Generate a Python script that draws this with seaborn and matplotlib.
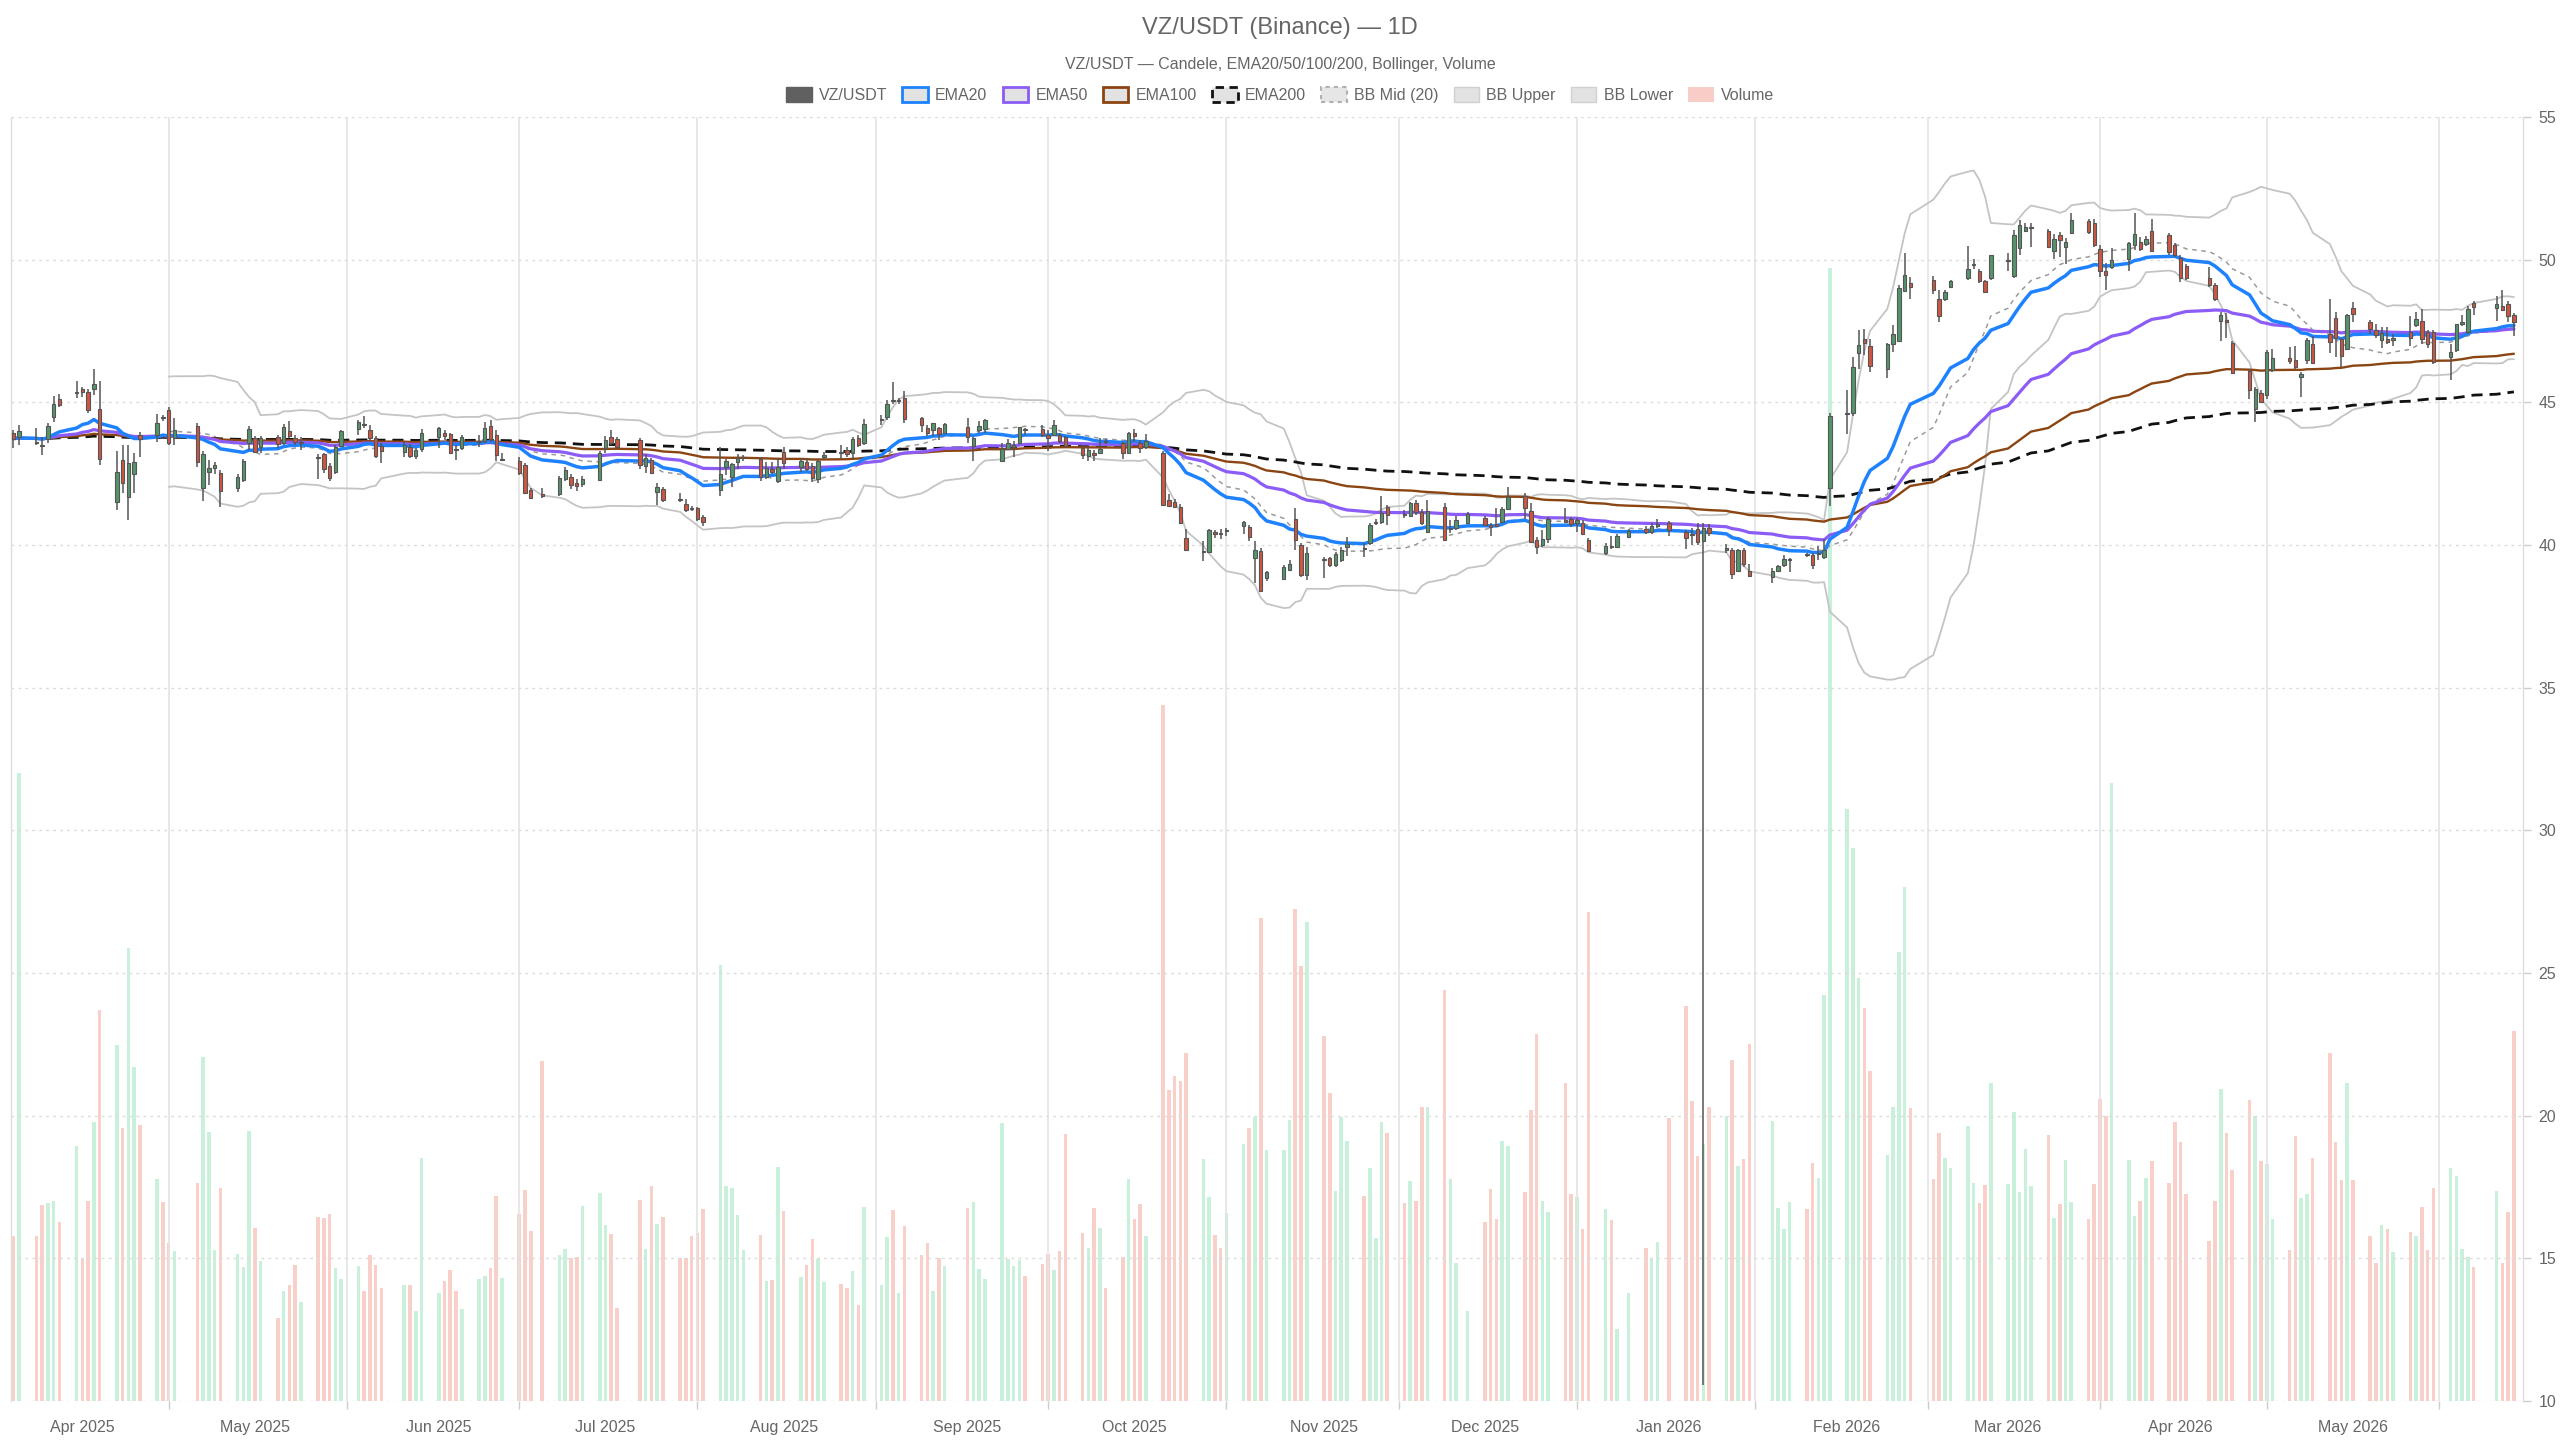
import numpy as np
import pandas as pd
import matplotlib
matplotlib.use("Agg")
import matplotlib.pyplot as plt
from matplotlib.patches import Patch
import seaborn as sns

# ---------------- data ----------------
first_day = "2025-03-20"
last_day = "2026-05-29"
holidays = ["2025-04-18", "2025-05-26", "2025-06-19", "2025-07-04", "2025-09-01",
            "2025-11-27", "2025-12-25", "2026-01-01", "2026-01-19", "2026-02-16",
            "2026-04-03", "2026-05-25"]

opens = [
    43.94, 43.77,
    43.62, 43.52, 43.70, 44.47, 45.12,
    45.32, 45.48, 45.37, 45.47, 44.75,
    41.52, 42.98, 41.67, 42.49, 43.84,
    43.86, 44.49, 44.73, 43.74,
    44.18, 41.99, 42.55, 42.69, 42.51,
    41.99, 42.28, 43.56, 43.74, 43.45,
    43.77, 43.59, 44.00, 43.76, 43.56,
    43.06, 43.19, 42.77, 42.57, 43.47,
    44.05, 44.23, 44.03, 43.74, 43.47,
    43.25, 43.45, 43.13, 43.35,
    43.77, 43.91, 43.89, 43.35, 43.39,
    43.60, 43.64, 44.17, 43.85, 42.98,
    42.94, 42.79, 41.93, 41.80,
    41.79, 42.32, 42.40, 42.16, 42.13,
    42.28, 43.39, 43.80, 43.73,
    43.68, 42.77, 42.98, 41.85, 41.96,
    41.62, 41.44, 41.30, 41.28, 40.97,
    41.93, 42.72, 42.39, 42.92, 43.06,
    43.03, 42.39, 42.65, 42.25, 43.27,
    42.75, 42.92, 42.77, 42.30, 43.10,
    43.25, 43.33, 43.21, 43.74, 43.56,
    44.38, 44.47, 45.05, 45.03, 45.14,
    44.44, 44.09, 44.03, 44.09, 43.94,
    44.15, 43.47, 44.03, 44.05,
    42.96, 43.35, 43.45, 43.59, 44.05,
    44.05, 43.86, 43.86, 43.86, 43.77,
    43.39, 43.13, 43.21, 43.24, 43.64,
    43.56, 43.24, 43.91, 43.56, 43.42,
    43.24, 41.58, 41.52, 41.34, 40.23,
    39.76, 39.77, 40.42, 40.40, 40.50,
    40.67, 40.62, 39.53, 39.80, 38.83,
    38.80, 39.12, 40.92, 40.00, 38.95,
    39.48, 39.53, 39.30, 39.47, 39.92,
    39.89, 40.06, 40.78, 40.82, 41.32,
    41.07, 41.03, 41.48, 41.17, 40.47,
    41.34, 40.57, 40.59, 40.78,
    40.94, 40.70, 40.70, 40.82, 41.25,
    41.73, 41.20, 40.18, 40.00, 40.20,
    40.87, 40.90, 40.76, 40.78, 40.18,
    39.71, 39.97, 39.94, 40.29,
    40.55, 40.45, 40.65, 40.76,
    40.45, 40.36, 40.55, 40.15, 40.58,
    39.84, 39.84, 39.10, 39.84, 39.10,
    38.88, 39.10, 39.29, 39.48,
    39.67, 39.66, 39.68, 39.57, 41.99,
    44.60, 44.61, 46.74, 47.21, 46.96,
    46.17, 47.03, 47.15, 48.91, 49.18,
    49.30, 48.62, 48.62, 49.03,
    49.36, 49.80, 49.61, 49.24, 49.36,
    49.95, 49.42, 50.41, 51.02, 51.10,
    51.00, 50.31, 50.87, 50.43, 50.92,
    51.35, 51.29, 50.37, 49.61, 49.73,
    50.04, 50.53, 50.63, 50.55, 51.00,
    50.87, 50.53, 50.06, 49.79,
    49.36, 49.12, 47.85, 47.85, 47.09,
    46.11, 44.75, 45.33, 45.25, 46.13,
    46.57, 46.50, 45.88, 46.47, 47.06,
    47.40, 47.97, 47.21, 46.87, 48.29,
    47.83, 47.52, 47.19, 47.21, 47.20,
    47.48, 47.70, 47.85, 47.46, 47.46,
    46.60, 46.82, 47.73, 47.46, 48.48,
    48.29, 48.38, 48.46, 48.07,
]

highs = [
    44.03, 44.20,
    44.10, 43.80, 44.29, 45.23, 45.30,
    45.76, 45.55, 45.46, 46.16, 45.76,
    43.30, 43.50, 43.50, 43.21, 43.97,
    44.60, 44.55, 44.85, 44.44,
    44.26, 43.31, 42.98, 42.92, 42.63,
    42.49, 43.00, 44.17, 43.82, 43.82,
    43.85, 44.24, 44.36, 43.86, 43.78,
    43.19, 43.24, 42.89, 43.51, 44.03,
    44.38, 44.52, 44.20, 43.82, 43.56,
    43.60, 43.55, 43.40, 44.06,
    44.15, 44.03, 43.94, 43.50, 43.85,
    43.85, 44.32, 44.38, 44.03, 43.24,
    43.07, 42.89, 41.99, 42.00,
    42.42, 42.72, 42.50, 42.30, 42.42,
    43.31, 43.82, 44.03, 43.80,
    43.74, 43.19, 43.04, 42.17, 42.05,
    41.82, 41.60, 41.37, 41.34, 41.05,
    43.45, 43.00, 42.89, 43.19, 43.14,
    43.07, 42.92, 42.92, 43.04, 43.42,
    43.04, 43.04, 42.86, 43.00, 43.27,
    43.50, 43.45, 43.79, 43.86, 44.41,
    44.56, 45.08, 45.72, 45.14, 45.41,
    44.47, 44.20, 44.29, 44.15, 44.29,
    44.44, 43.79, 44.36, 44.41,
    43.56, 43.70, 43.65, 44.15, 44.10,
    44.21, 44.03, 44.38, 43.92, 43.82,
    43.50, 43.45, 43.33, 43.74, 43.70,
    43.62, 43.97, 44.06, 43.68, 43.89,
    43.31, 41.80, 41.60, 41.43, 40.55,
    40.14, 40.56, 40.53, 40.56, 40.60,
    40.85, 40.70, 40.15, 39.88, 39.10,
    39.30, 39.49, 41.28, 40.06, 39.94,
    39.59, 39.59, 39.77, 39.94, 40.29,
    40.06, 40.76, 40.91, 41.72, 41.40,
    41.22, 41.52, 41.57, 41.26, 41.57,
    41.46, 40.87, 41.00, 41.17,
    41.00, 40.78, 41.29, 41.32, 42.04,
    41.82, 41.46, 40.29, 40.52, 40.97,
    41.29, 40.99, 40.94, 40.88, 40.23,
    40.06, 40.32, 40.39, 40.56,
    40.65, 40.76, 40.90, 40.85,
    40.52, 40.58, 40.76, 40.76, 40.72,
    40.02, 39.90, 39.87, 39.90, 39.32,
    39.20, 39.30, 39.66, 39.53,
    39.72, 39.72, 39.96, 40.21, 44.63,
    45.43, 46.60, 47.52, 47.58, 47.21,
    47.09, 47.70, 49.12, 50.22, 49.40,
    49.42, 48.93, 48.95, 49.30,
    50.47, 50.04, 49.67, 49.30, 50.18,
    50.22, 51.04, 51.39, 51.27, 51.27,
    51.08, 50.90, 50.96, 50.77, 51.63,
    51.44, 51.41, 50.53, 49.90, 50.40,
    50.63, 51.63, 50.80, 50.84, 51.41,
    50.92, 50.59, 50.16, 49.85,
    49.73, 49.18, 48.17, 48.13, 47.15,
    46.17, 45.55, 45.43, 46.84, 46.87,
    46.94, 46.97, 46.08, 47.27, 47.33,
    48.62, 48.17, 47.27, 48.10, 48.50,
    47.89, 47.76, 47.64, 47.64, 47.40,
    48.01, 48.17, 48.26, 47.52, 47.52,
    47.03, 47.76, 48.07, 48.38, 48.54,
    48.71, 48.93, 48.56, 48.13,
]

lows = [
    43.39, 43.50,
    43.50, 43.15, 43.56, 44.32, 44.85,
    45.14, 45.20, 44.61, 45.26, 42.80,
    41.23, 41.81, 40.88, 41.81, 43.10,
    43.62, 44.35, 43.50, 43.50,
    42.75, 41.55, 42.10, 42.50, 41.34,
    41.87, 42.22, 43.33, 43.24, 43.22,
    43.41, 43.50, 43.74, 43.50, 43.33,
    42.31, 42.52, 42.26, 42.50, 43.42,
    43.86, 44.10, 43.68, 43.04, 42.86,
    43.10, 43.05, 43.00, 43.27,
    43.39, 43.68, 43.19, 42.98, 43.33,
    43.45, 43.59, 43.62, 42.94, 42.94,
    42.45, 41.79, 41.60, 41.66,
    41.72, 42.25, 41.95, 41.91, 42.03,
    42.25, 43.24, 43.50, 43.35,
    42.68, 42.53, 42.49, 41.41, 41.49,
    41.49, 41.14, 41.19, 40.85, 40.68,
    41.70, 42.45, 42.04, 42.66, 42.96,
    42.25, 42.30, 42.49, 42.16, 42.66,
    42.55, 42.58, 42.21, 42.16, 43.03,
    43.03, 43.10, 43.03, 43.42, 43.50,
    44.21, 44.38, 44.95, 44.95, 44.26,
    43.97, 43.82, 43.82, 43.68, 43.89,
    43.56, 42.96, 43.94, 43.94,
    42.90, 43.33, 43.10, 43.54, 43.86,
    43.80, 43.30, 43.82, 43.59, 43.42,
    43.00, 42.96, 42.96, 43.20, 43.54,
    43.00, 43.20, 43.62, 43.24, 43.37,
    41.37, 41.35, 41.29, 40.73, 39.80,
    39.44, 39.73, 40.23, 40.21, 40.33,
    40.38, 40.15, 38.66, 38.37, 38.75,
    38.78, 39.10, 39.82, 38.89, 38.77,
    38.83, 39.24, 39.24, 39.41, 39.62,
    39.58, 40.00, 40.70, 40.74, 40.69,
    40.95, 41.00, 41.05, 40.71, 40.41,
    40.16, 40.41, 40.53, 40.74,
    40.66, 40.32, 40.62, 40.78, 41.23,
    40.91, 40.06, 39.68, 39.92, 40.08,
    40.76, 40.64, 40.47, 40.34, 39.76,
    39.64, 39.85, 39.88, 40.26,
    40.38, 40.40, 40.60, 40.30,
    39.85, 39.99, 39.99, 10.57, 40.33,
    39.72, 38.80, 39.04, 39.23, 38.88,
    38.67, 39.05, 39.23, 39.04,
    39.57, 39.16, 39.47, 39.50, 41.38,
    43.89, 44.53, 46.17, 46.66, 46.08,
    45.84, 46.78, 47.11, 48.87, 48.62,
    48.81, 47.83, 48.55, 49.00,
    49.28, 49.67, 49.18, 48.83, 49.28,
    49.60, 49.36, 50.18, 50.96, 50.43,
    50.41, 50.04, 50.10, 49.85, 50.90,
    50.90, 50.43, 49.40, 48.93, 49.67,
    49.61, 50.34, 50.31, 50.47, 50.28,
    50.16, 50.10, 49.20, 49.28,
    49.03, 48.56, 47.15, 47.27, 45.98,
    45.10, 44.32, 45.00, 45.10, 46.08,
    46.35, 46.17, 45.18, 46.35, 46.35,
    46.74, 46.60, 46.23, 46.84, 47.83,
    47.40, 47.27, 46.90, 47.03, 46.97,
    46.97, 47.64, 47.03, 46.90, 46.35,
    45.80, 46.78, 47.68, 47.40, 48.07,
    47.85, 48.19, 47.83, 47.33,
]

closes = [
    43.73, 44.00,
    43.56, 43.46, 44.17, 44.94, 44.90,
    45.37, 45.37, 44.73, 45.63, 43.00,
    42.57, 42.16, 42.86, 42.92, 43.73,
    44.29, 44.45, 43.56, 44.03,
    42.92, 43.18, 42.69, 42.80, 41.90,
    42.39, 42.94, 44.05, 43.27, 43.74,
    43.54, 44.12, 43.83, 43.62, 43.60,
    43.04, 42.65, 42.34, 43.45, 44.00,
    44.31, 44.20, 43.74, 43.12, 43.31,
    43.50, 43.12, 43.33, 43.94,
    44.09, 43.82, 43.24, 43.33, 43.77,
    43.65, 44.11, 43.70, 43.15, 43.02,
    42.51, 41.83, 41.64, 41.70,
    42.34, 42.63, 42.09, 42.07, 42.31,
    43.24, 43.68, 43.56, 43.42,
    42.80, 43.04, 42.51, 42.05, 41.58,
    41.58, 41.23, 41.26, 40.90, 40.80,
    42.49, 42.94, 42.83, 43.06, 43.07,
    42.37, 42.69, 42.56, 42.75, 42.89,
    42.94, 42.65, 42.36, 42.94, 43.12,
    43.22, 43.19, 43.70, 43.50, 44.23,
    44.40, 44.94, 45.03, 45.05, 44.40,
    44.21, 43.94, 44.26, 43.89, 44.23,
    43.77, 43.74, 44.17, 44.38,
    43.35, 43.56, 43.50, 44.12, 44.02,
    43.86, 43.74, 44.21, 43.66, 43.47,
    43.15, 43.33, 43.14, 43.37, 43.60,
    43.24, 43.94, 43.82, 43.39, 43.66,
    41.40, 41.37, 41.32, 40.78, 39.82,
    39.79, 40.53, 40.40, 40.38, 40.53,
    40.79, 40.29, 39.82, 38.40, 39.05,
    39.22, 39.32, 40.17, 38.95, 39.73,
    39.46, 39.30, 39.68, 39.82, 40.02,
    39.87, 40.70, 40.79, 41.11, 41.05,
    41.05, 41.46, 41.17, 40.76, 41.20,
    40.18, 40.59, 40.88, 41.09,
    40.70, 40.64, 40.68, 41.25, 41.69,
    41.29, 40.12, 39.92, 40.20, 40.90,
    40.79, 40.74, 40.88, 40.38, 39.80,
    39.97, 39.92, 40.32, 40.49,
    40.45, 40.65, 40.74, 40.52,
    40.23, 40.34, 40.11, 40.58, 40.43,
    39.86, 38.98, 39.84, 39.35, 38.92,
    39.10, 39.25, 39.50, 39.50,
    39.65, 39.29, 39.72, 39.82, 44.53,
    44.62, 46.25, 47.00, 47.09, 46.29,
    47.03, 47.40, 48.99, 49.48, 49.03,
    48.93, 48.01, 48.87, 49.26,
    49.67, 49.84, 49.24, 48.87, 50.16,
    49.98, 50.87, 51.20, 51.14, 51.12,
    50.43, 50.71, 50.68, 50.63, 51.39,
    50.96, 50.53, 49.61, 49.48, 49.98,
    50.59, 50.90, 50.37, 50.71, 50.31,
    50.28, 50.16, 49.36, 49.36,
    49.12, 48.62, 48.05, 47.83, 46.04,
    45.43, 45.47, 45.02, 46.78, 46.54,
    46.45, 46.25, 45.98, 47.19, 46.38,
    47.11, 47.24, 46.62, 48.05, 48.10,
    47.56, 47.36, 47.43, 47.11, 47.22,
    47.24, 47.92, 47.21, 47.06, 46.41,
    46.75, 47.73, 47.80, 48.26, 48.35,
    48.46, 48.22, 48.01, 47.83,
]

volumes = [  # millions of shares
    5.77, 22.00,
    5.77, 6.87, 6.95, 7.02, 6.26,
    8.92, 5.02, 7.02, 9.77, 13.71,
    12.47, 9.56, 15.89, 11.71, 9.68,
    7.79, 6.98, 5.53, 5.26,
    7.63, 12.06, 9.44, 5.29, 7.47,
    5.16, 4.69, 9.48, 6.05, 4.89,
    2.92, 3.87, 4.08, 4.77, 3.47,
    6.45, 6.42, 6.55, 4.65, 4.27,
    4.73, 3.87, 5.13, 4.77, 3.95,
    4.08, 4.05, 3.16, 8.52,
    3.79, 4.19, 4.60, 3.87, 3.23,
    4.27, 4.37, 4.65, 7.18, 4.32,
    6.55, 7.39, 5.97, 11.90,
    5.13, 5.34, 5.00, 5.05, 6.85,
    7.29, 6.16, 5.85, 3.27,
    7.06, 5.34, 7.55, 6.21, 6.45,
    5.02, 5.00, 5.77, 5.89, 6.74,
    15.29, 7.55, 7.47, 6.53, 5.29,
    5.82, 4.19, 4.24, 8.19, 6.66,
    4.35, 4.76, 5.69, 4.97, 4.16,
    4.11, 3.97, 4.56, 3.35, 6.79,
    4.05, 5.74, 6.71, 3.79, 6.13,
    5.13, 5.53, 3.84, 5.02, 4.73,
    6.77, 6.98, 4.61, 4.27,
    9.73, 4.97, 4.73, 4.94, 4.37,
    4.81, 5.16, 4.60, 5.26, 9.35,
    5.90, 5.37, 6.77, 6.06, 3.97,
    5.03, 7.79, 6.37, 6.90, 5.77,
    24.40, 10.90, 11.40, 11.20, 12.20,
    8.48, 7.15, 5.81, 5.37, 6.58,
    9.00, 9.56, 9.94, 16.94, 8.80,
    8.80, 9.85, 17.26, 15.24, 16.77,
    12.79, 10.81, 7.35, 9.94, 9.11,
    7.18, 8.15, 5.73, 9.77, 9.40,
    6.94, 7.71, 7.02, 10.32, 10.29,
    14.39, 7.79, 4.85, 3.15,
    6.29, 7.44, 6.37, 9.11, 8.92,
    7.34, 10.21, 12.87, 7.02, 6.61,
    11.15, 7.27, 7.15, 6.02, 17.15,
    6.74, 6.34, 2.52, 3.79,
    5.37, 4.97, 5.56, 9.92,
    13.84, 10.50, 8.60, 9.00, 10.29,
    10.00, 11.95, 8.23, 8.48, 12.50,
    9.81, 6.77, 6.02, 6.98,
    6.74, 8.35, 7.82, 14.24, 39.70,
    20.74, 19.37, 14.84, 13.76, 11.58,
    8.63, 10.32, 15.73, 18.03, 10.26,
    7.79, 9.40, 8.52, 8.15,
    9.65, 7.63, 6.95, 7.58, 11.15,
    7.60, 10.13, 7.31, 8.84, 7.55,
    9.32, 6.42, 6.90, 8.44, 6.98,
    6.39, 7.60, 10.58, 10.00, 21.66,
    8.44, 6.47, 7.02, 7.82, 8.40,
    7.63, 9.77, 9.08, 7.27,
    5.61, 7.02, 10.94, 9.40, 8.08,
    10.56, 10.00, 8.40, 8.32, 6.39,
    5.29, 9.29, 7.10, 7.27, 8.52,
    12.18, 9.08, 7.76, 11.15, 7.73,
    5.77, 4.84, 6.18, 6.02, 5.21,
    5.94, 5.77, 6.79, 5.29, 7.47,
    8.15, 7.87, 5.34, 5.05, 4.69,
    7.35, 4.84, 6.63, 12.98,
]

month_labels = ["Apr 2025", "May 2025", "Jun 2025", "Jul 2025", "Aug 2025", "Sep 2025",
                "Oct 2025", "Nov 2025", "Dec 2025", "Jan 2026", "Feb 2026", "Mar 2026",
                "Apr 2026", "May 2026"]
grid_dates = ["2025-04-16", "2025-05-17", "2025-06-16", "2025-07-17", "2025-08-17",
              "2025-09-16", "2025-10-17", "2025-11-16", "2025-12-17", "2026-01-17",
              "2026-02-16", "2026-03-18", "2026-04-16", "2026-05-16"]
price_ticks = [10, 15, 20, 25, 30, 35, 40, 45, 50, 55]

# ---------------- frame & indicators ----------------
bdays = pd.bdate_range(first_day, last_day)
dates = bdays[~bdays.isin(pd.to_datetime(holidays))]
df = pd.DataFrame({"date": dates, "open": opens, "high": highs, "low": lows,
                   "close": closes, "volume": volumes})
for n in (20, 50, 100, 200):
    df[f"ema{n}"] = df["close"].ewm(span=n, adjust=False).mean()
mid = df["close"].rolling(20).mean()
sd = df["close"].rolling(20).std(ddof=0)
df["bb_mid"] = mid
df["bb_up"] = mid + 2 * sd
df["bb_lo"] = mid - 2 * sd
up = df["close"] >= df["open"]

# month labels sit on the first trading day of each month
first_of_month = df.groupby(df["date"].dt.to_period("M"))["date"].min()
label_pos = [d for d in first_of_month if d > df["date"].iloc[0]]

# ---------------- style ----------------
sns.set_theme(style="white")
plt.rcParams["font.family"] = ["Liberation Sans", "DejaVu Sans"]
TXT = "#666666"
C_UP, C_DN = "#54946B", "#CF563F"
V_UP, V_DN = "#c9f0da", "#f9cfca"

fig = plt.figure(figsize=(25.6, 14.4), dpi=100, facecolor="white")
W, H = 2560, 1440
l, r, t, b = 11, 2523, 117, 1401
ax = fig.add_axes([l / W, 1 - b / H, (r - l) / W, (b - t) / H])
axv = ax.twinx()
ax.set_zorder(axv.get_zorder() + 1)
ax.patch.set_visible(False)

# volume (own hidden scale)
axv.bar(df["date"], df["volume"], width=0.62,
        color=np.where(up, V_UP, V_DN), linewidth=0, zorder=1)
axv.set_ylim(0, 45)
axv.set_yticks([])
for s in axv.spines.values():
    s.set_visible(False)

# indicator lines (seaborn)
line_specs = [
    ("bb_up", "#c4c4c4", 1.3, "-"),
    ("bb_lo", "#c4c4c4", 1.3, "-"),
    ("bb_mid", "#9a9a9a", 1.1, (0, (3, 3))),
    ("ema200", "#111111", 2.0, (0, (4, 2.5))),
    ("ema100", "#8B4513", 1.7, "-"),
    ("ema50", "#8B5CF6", 2.3, "-"),
    ("ema20", "#1E82FF", 2.5, "-"),
]
for col, colr, lw, ls in line_specs:
    sns.lineplot(data=df, x="date", y=col, ax=ax, color=colr, linewidth=lw,
                 linestyle=ls, legend=False, zorder=2)

# candles
ax.vlines(df["date"], df["low"], df["high"], color="#555555", linewidth=1.1, zorder=3)
body_lo = np.minimum(df["open"], df["close"])
body_h = np.maximum((df["close"] - df["open"]).abs(), 0.04)
ax.bar(df["date"], body_h, bottom=body_lo, width=0.6,
       color=np.where(up, C_UP, C_DN), edgecolor="#555555", linewidth=0.8, zorder=4)

# axes styling
ax.set_xlim(pd.Timestamp("2025-03-19 14:00"), pd.Timestamp("2026-05-30 14:00"))
ax.set_ylim(10, 55)
ax.set_xlabel("")
ax.set_ylabel("")
ax.yaxis.tick_right()
ax.set_yticks(price_ticks)
ax.set_yticklabels([str(v) for v in price_ticks])
ax.tick_params(axis="y", which="both", right=True, length=6, width=1, color="#cccccc",
               labelsize=11.5, labelcolor=TXT, pad=5)
ax.grid(axis="y", color="#dcdcdc", linestyle=(0, (2, 3)), linewidth=1.0)

ax.set_xticks(pd.to_datetime(grid_dates))
ax.set_xticklabels([""] * len(grid_dates))
ax.set_xticks(label_pos, minor=True)
ax.set_xticklabels(month_labels, minor=True)
ax.tick_params(axis="x", which="major", bottom=True, length=6, width=1, color="#cccccc")
ax.tick_params(axis="x", which="minor", bottom=False, length=0, labelsize=11.5,
               labelcolor=TXT, pad=14)
ax.grid(axis="x", which="major", color="#e4e4e4", linestyle="-", linewidth=1.2)
for side in ("top", "bottom"):
    ax.spines[side].set_visible(False)
for side in ("left", "right"):
    ax.spines[side].set_visible(True)
    ax.spines[side].set_color("#dddddd")
    ax.spines[side].set_linewidth(1.0)

# titles
fig.text(0.5, 1 - 28 / H, "VZ/USDT (Binance) — 1D", ha="center", va="center",
         fontsize=17, color=TXT)
fig.text(0.5, 1 - 65 / H, "VZ/USDT — Candele, EMA20/50/100/200, Bollinger, Volume",
         ha="center", va="center", fontsize=11.5, color=TXT)

# legend
handles = [
    Patch(facecolor="#606060", edgecolor="#606060", label="VZ/USDT"),
    Patch(facecolor="#e2e2e2", edgecolor="#1E82FF", linewidth=2, label="EMA20"),
    Patch(facecolor="#e2e2e2", edgecolor="#8B5CF6", linewidth=2, label="EMA50"),
    Patch(facecolor="#e2e2e2", edgecolor="#8B4513", linewidth=2, label="EMA100"),
    Patch(facecolor="#e2e2e2", edgecolor="#111111", linewidth=2, linestyle=(0, (3, 2)),
          label="EMA200"),
    Patch(facecolor="#e6e6e6", edgecolor="#b0b0b0", linewidth=1.5, linestyle=(0, (2, 2)),
          label="BB Mid (20)"),
    Patch(facecolor="#e2e2e2", edgecolor="#d0d0d0", linewidth=1, label="BB Upper"),
    Patch(facecolor="#e2e2e2", edgecolor="#d0d0d0", linewidth=1, label="BB Lower"),
    Patch(facecolor="#f8cdc8", edgecolor="#f8cdc8", linewidth=0, label="Volume"),
]
leg = fig.legend(handles=handles, loc="center", bbox_to_anchor=(0.5, 1 - 95 / H),
                 ncol=9, frameon=False, fontsize=11.5, handlelength=1.6,
                 handleheight=1.1, handletextpad=0.45, columnspacing=0.95)
for txt in leg.get_texts():
    txt.set_color(TXT)

fig.savefig("out.png", dpi=100, facecolor="white")
